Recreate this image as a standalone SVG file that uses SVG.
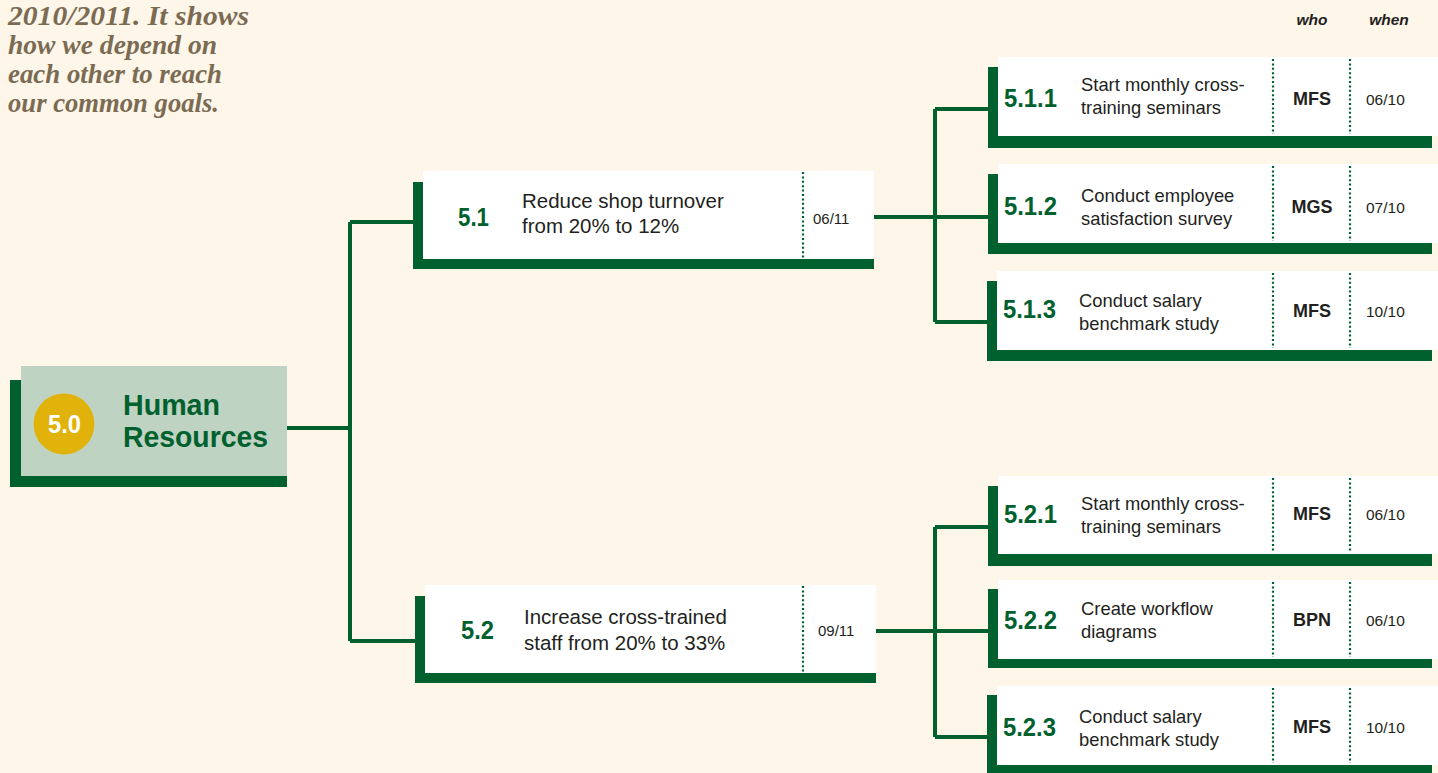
<svg xmlns="http://www.w3.org/2000/svg" width="1438" height="773" viewBox="0 0 1438 773">
<style>
.bg{fill:#fdf6e9}
.sh{fill:#00612f}
.box{fill:#ffffff}
.root{fill:#bfd3c2}
.con{stroke:#00612f;stroke-width:4;fill:none}
.dot{stroke:#00612f;stroke-width:2.2;stroke-dasharray:2 2.4;fill:none}
.num{font-family:"Liberation Sans",Arial,sans-serif;font-weight:bold;fill:#00612f}
.txt{font-family:"Liberation Sans",Arial,sans-serif;fill:#231f20}
.who{font-family:"Liberation Sans",Arial,sans-serif;font-weight:bold;fill:#231f20;font-size:18px;text-anchor:middle}
.when{font-family:"Liberation Sans",Arial,sans-serif;fill:#231f20;font-size:15.5px}
.hdr{font-family:"Liberation Sans",Arial,sans-serif;font-weight:bold;font-style:italic;fill:#231f20;font-size:15.5px;text-anchor:middle}
.intro{font-family:"Liberation Serif","Times New Roman",serif;font-weight:bold;font-style:italic;fill:#7b6b53;font-size:27px}
</style>
<rect class="bg" x="0" y="0" width="1438" height="773"/>

<g id="intro">
<text class="intro" x="8" y="25" textLength="241" lengthAdjust="spacingAndGlyphs">2010/2011.  It shows</text>
<text class="intro" x="8" y="54" textLength="209" lengthAdjust="spacingAndGlyphs">how we depend on</text>
<text class="intro" x="8" y="83" textLength="214" lengthAdjust="spacingAndGlyphs">each other to reach</text>
<text class="intro" x="8" y="112" textLength="211" lengthAdjust="spacingAndGlyphs">our common goals.</text>
</g>

<g id="header">
<text class="hdr" x="1312" y="25">who</text>
<text class="hdr" x="1389" y="25">when</text>
</g>

<g id="connectors">
<path class="con" d="M287 428 H350 M350 222 V641 M350 222 H413 M350 641 H415"/>
<path class="con" d="M874 217 H988 M935 109 V322 M935 109 H988 M935 322 H988"/>
<path class="con" d="M876 631 H988 M935 527 V737 M935 527 H988 M935 737 H988"/>
</g>

<g id="n5.0">
<rect class="sh" x="10" y="380" width="277" height="107"/>
<rect class="root" x="21" y="366" width="266" height="110"/>
<circle cx="64" cy="424" r="30.5" fill="#e0b20a"/>
<text class="num" x="48" y="433" font-size="25" style="fill:#ffffff" textLength="33" lengthAdjust="spacingAndGlyphs">5.0</text>
<text class="num" x="123" y="415" font-size="29.5" textLength="97" lengthAdjust="spacingAndGlyphs">Human</text>
<text class="num" x="123" y="447" font-size="29.5" textLength="145" lengthAdjust="spacingAndGlyphs">Resources</text>
</g>

<g id="n5.1">
<rect class="sh" x="413" y="182" width="461" height="87"/>
<rect class="box" x="423" y="171" width="451" height="88"/>
<line class="dot" x1="803" y1="172" x2="803" y2="258"/>
<text class="num" x="458" y="226" font-size="25" textLength="31" lengthAdjust="spacingAndGlyphs">5.1</text>
<text class="txt" x="522" y="208" font-size="20.5">Reduce shop turnover</text>
<text class="txt" x="522" y="233" font-size="20.5">from 20% to 12%</text>
<text class="txt" x="813" y="224" font-size="15">06/11</text>
</g>

<g id="n5.2">
<rect class="sh" x="415" y="596" width="461" height="87"/>
<rect class="box" x="425" y="585" width="451" height="88"/>
<line class="dot" x1="803" y1="586" x2="803" y2="672"/>
<text class="num" x="461" y="639" font-size="25" textLength="33" lengthAdjust="spacingAndGlyphs">5.2</text>
<text class="txt" x="524" y="624" font-size="20.5">Increase cross-trained</text>
<text class="txt" x="524" y="650" font-size="20.5">staff from 20% to 33%</text>
<text class="txt" x="818" y="636" font-size="15">09/11</text>
</g>

<g id="n5.1.1">
<rect class="sh" x="988" y="67" width="444" height="81"/>
<rect class="box" x="998" y="57" width="440" height="79"/>
<line class="dot" x1="1273" y1="59" x2="1273" y2="134"/>
<line class="dot" x1="1350" y1="59" x2="1350" y2="134"/>
<text class="num" x="1004" y="107" font-size="25" textLength="53" lengthAdjust="spacingAndGlyphs">5.1.1</text>
<text class="txt" x="1081" y="91" font-size="18.4">Start monthly cross-</text>
<text class="txt" x="1081" y="114" font-size="18.4">training seminars</text>
<text class="who" x="1312" y="105">MFS</text>
<text class="when" x="1366" y="105">06/10</text>
</g>

<g id="n5.1.2">
<rect class="sh" x="988" y="174" width="444" height="80"/>
<rect class="box" x="998" y="164" width="440" height="79"/>
<line class="dot" x1="1273" y1="166" x2="1273" y2="241"/>
<line class="dot" x1="1350" y1="166" x2="1350" y2="241"/>
<text class="num" x="1004" y="215" font-size="25" textLength="53" lengthAdjust="spacingAndGlyphs">5.1.2</text>
<text class="txt" x="1081" y="202" font-size="18.4">Conduct employee</text>
<text class="txt" x="1081" y="225" font-size="18.4">satisfaction survey</text>
<text class="who" x="1312" y="213">MGS</text>
<text class="when" x="1366" y="213">07/10</text>
</g>

<g id="n5.1.3">
<rect class="sh" x="987" y="281" width="445" height="80"/>
<rect class="box" x="997" y="271" width="441" height="79"/>
<line class="dot" x1="1273" y1="273" x2="1273" y2="348"/>
<line class="dot" x1="1350" y1="273" x2="1350" y2="348"/>
<text class="num" x="1003" y="318" font-size="25" textLength="53" lengthAdjust="spacingAndGlyphs">5.1.3</text>
<text class="txt" x="1079" y="307" font-size="18.4">Conduct salary</text>
<text class="txt" x="1079" y="330" font-size="18.4">benchmark study</text>
<text class="who" x="1312" y="317">MFS</text>
<text class="when" x="1366" y="317">10/10</text>
</g>

<g id="n5.2.1">
<rect class="sh" x="988" y="486" width="444" height="80"/>
<rect class="box" x="998" y="476" width="440" height="78"/>
<line class="dot" x1="1273" y1="478" x2="1273" y2="552"/>
<line class="dot" x1="1350" y1="478" x2="1350" y2="552"/>
<text class="num" x="1004" y="523" font-size="25" textLength="53" lengthAdjust="spacingAndGlyphs">5.2.1</text>
<text class="txt" x="1081" y="510" font-size="18.4">Start monthly cross-</text>
<text class="txt" x="1081" y="533" font-size="18.4">training seminars</text>
<text class="who" x="1312" y="520">MFS</text>
<text class="when" x="1366" y="520">06/10</text>
</g>

<g id="n5.2.2">
<rect class="sh" x="988" y="589" width="444" height="79"/>
<rect class="box" x="998" y="580" width="440" height="79"/>
<line class="dot" x1="1273" y1="582" x2="1273" y2="657"/>
<line class="dot" x1="1350" y1="582" x2="1350" y2="657"/>
<text class="num" x="1004" y="629" font-size="25" textLength="53" lengthAdjust="spacingAndGlyphs">5.2.2</text>
<text class="txt" x="1081" y="615" font-size="18.4">Create workflow</text>
<text class="txt" x="1081" y="638" font-size="18.4">diagrams</text>
<text class="who" x="1312" y="626">BPN</text>
<text class="when" x="1366" y="626">06/10</text>
</g>

<g id="n5.2.3">
<rect class="sh" x="987" y="695" width="445" height="78"/>
<rect class="box" x="997" y="686" width="441" height="79"/>
<line class="dot" x1="1273" y1="688" x2="1273" y2="763"/>
<line class="dot" x1="1350" y1="688" x2="1350" y2="763"/>
<text class="num" x="1003" y="736" font-size="25" textLength="53" lengthAdjust="spacingAndGlyphs">5.2.3</text>
<text class="txt" x="1079" y="723" font-size="18.4">Conduct salary</text>
<text class="txt" x="1079" y="746" font-size="18.4">benchmark study</text>
<text class="who" x="1312" y="733">MFS</text>
<text class="when" x="1366" y="733">10/10</text>
</g>
</svg>
